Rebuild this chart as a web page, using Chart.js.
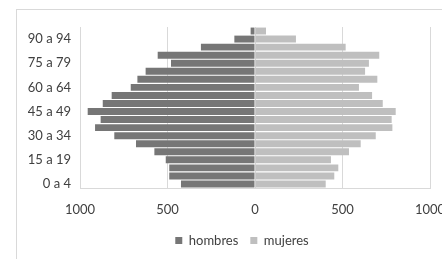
<!DOCTYPE html>
<html>
<head>
<meta charset="utf-8">
<script src="https://cdn.jsdelivr.net/npm/chart.js@4/dist/chart.umd.min.js"></script>
<style>
  html, body { margin: 0; padding: 0; background: #fff; overflow: hidden; }
  #frame { position: absolute; left: 16px; top: 9px; width: 500px; height: 300px; border: 1px solid #d9d9d9; box-sizing: border-box; }
  #wrap { position: absolute; left: 0; top: 0; width: 470px; height: 259px; }
</style>
</head>
<body>
<div id="frame"></div>
<div id="wrap"><canvas id="c"></canvas></div>
<script>
const categories = ["0 a 4","5 a 9","10 a 14","15 a 19","20 a 24","25 a 29","30 a 34","35 a 39","40 a 44","45 a 49","50 a 54","55 a 59","60 a 64","65 a 69","70 a 74","75 a 79","80 a 84","85 a 89","90 a 94","95 a 99"];
const hombres = [423, 490, 490, 510, 575, 680, 804, 914, 882, 956, 870, 819, 710, 672, 625, 480, 556, 309, 118, 25];
const mujeres = [404, 453, 476, 434, 537, 604, 690, 785, 781, 804, 730, 669, 594, 699, 629, 651, 710, 518, 234, 63];
const xTicks = [-1000, -500, 0, 500, 1000];

const FONT = { family: "Lato, 'Open Sans', sans-serif", size: 13 };

// Center the legend under the plot like the reference (spanning x 54..430)
const legendShift = {
  id: 'legendShift',
  beforeDraw(chart) {
    const lg = chart.legend;
    if (!lg) return;
    lg.left = 54; lg.right = 430; lg.width = 376;
  }
};

new Chart(document.getElementById('c'), {
  type: 'bar',
  data: {
    labels: categories,
    datasets: [
      { label: 'hombres', data: hombres.map(v => -v), backgroundColor: '#767676', barPercentage: 1, categoryPercentage: 0.86 },
      { label: 'mujeres', data: mujeres, backgroundColor: '#bfbfbf', barPercentage: 1, categoryPercentage: 0.86 }
    ]
  },
  plugins: [legendShift],
  options: {
    indexAxis: 'y',
    responsive: true,
    maintainAspectRatio: false,
    animation: false,
    layout: { padding: { left: 0, right: 40, top: 27, bottom: 2 } },
    plugins: {
      tooltip: { enabled: false },
      legend: {
        position: 'bottom',
        labels: { boxWidth: 7, boxHeight: 7, padding: 12, color: '#404040', font: FONT }
      }
    },
    scales: {
      x: {
        stacked: true,
        min: -1000, max: 1000,
        afterBuildTicks: s => { s.ticks = xTicks.map(v => ({ value: v })); },
        ticks: { color: '#404040', font: FONT, padding: 14, maxRotation: 0, callback: v => Math.abs(v) },
        grid: { color: '#d9d9d9', drawTicks: false },
        border: { color: '#d9d9d9' },
        afterFit: s => { s.height = 34; }
      },
      y: {
        stacked: true,
        reverse: true,
        ticks: { color: '#404040', font: FONT, padding: 9, autoSkip: false, callback: (v, i) => (i % 3 === 0 ? categories[i] : '') },
        grid: { display: false, drawTicks: false },
        border: { color: '#d9d9d9' },
        afterFit: s => { s.width = 80; }
      }
    }
  }
});
</script>
</body>
</html>
